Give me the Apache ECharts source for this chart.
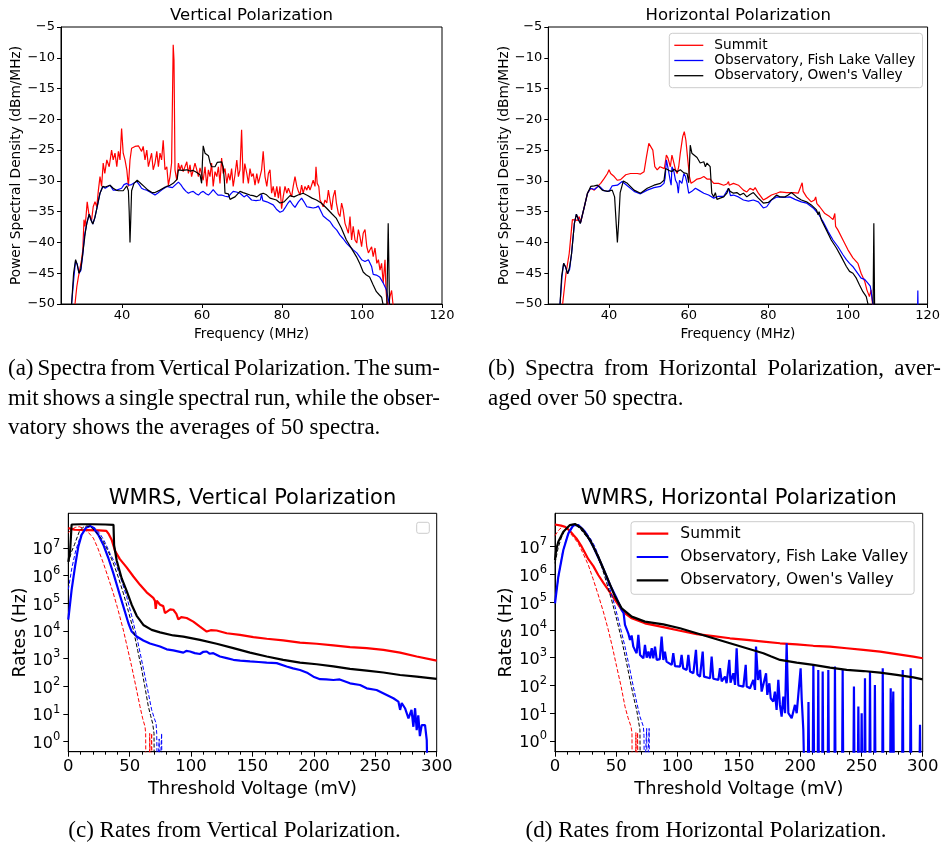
<!DOCTYPE html>
<html>
<head>
<meta charset="utf-8">
<script src="https://cdn.jsdelivr.net/npm/echarts@6/dist/echarts.min.js"></script>
<style>
  html, body { margin: 0; padding: 0; background: #fff; }
  #chart { position: absolute; left: 0; top: 0; width: 943px; height: 846px; }
  .cap { position: absolute; font-family: 'Liberation Serif', 'Times New Roman', serif; font-size: 23px; line-height: 29.5px; color: #000; }
  .cap div { white-space: nowrap; }
  .cap div.just { text-align: justify; text-align-last: justify; word-spacing: -2.5px; }
</style>
</head>
<body>
<div id="chart"></div>

<div class="cap" style="left:8px; top:353px; width:432px;">
  <div class="just">(a) Spectra from Vertical Polarization. The sum-</div>
  <div class="just">mit shows a single spectral run, while the obser-</div>
  <div>vatory shows the averages of 50 spectra.</div>
</div>
<div class="cap" style="left:488px; top:353px; width:453px;">
  <div class="just">(b) Spectra from Horizontal Polarization, aver-</div>
  <div>aged over 50 spectra.</div>
</div>
<div class="cap" style="left:0px; top:815px; width:469px; text-align:center;">
  <div>(c) Rates from Vertical Polarization.</div>
</div>
<div class="cap" style="left:469px; top:815px; width:474px; text-align:center;">
  <div>(d) Rates from Horizontal Polarization.</div>
</div>

<script>
// ---------- Spectra: [frequency MHz, PSD dBm/MHz] ----------
const specVSummit = [[28.25,-50],[28.7,-47.2],[29.1,-45.6],[29.5,-45.4],[29.9,-42.8],[30.2,-41.2],[30.5,-36.3],[30.75,-37.4],[31,-35.8],[31.3,-33.4],[31.7,-35.3],[32,-35.8],[32.4,-36.4],[32.8,-34.2],[33.25,-33.4],[33.7,-34.2],[34.1,-31.5],[34.5,-29.3],[34.9,-30.9],[35.3,-27.1],[35.7,-28.8],[36.2,-26.6],[36.8,-27.7],[37.4,-25],[37.8,-26.6],[38.25,-25.5],[38.7,-27.7],[39.1,-25.2],[39.5,-26.6],[39.9,-21.5],[40.3,-25.5],[40.75,-26.6],[41.2,-28.2],[41.6,-30.9],[42,-26.6],[42.4,-24.7],[43.25,-24.4],[44.1,-24.3],[44.9,-25.2],[45.3,-24.4],[45.75,-26.6],[46.2,-25],[46.6,-27.7],[47,-26.6],[47.4,-25.5],[47.8,-28.2],[48.25,-27.1],[48.7,-25.2],[49.1,-27.7],[49.5,-25.5],[49.9,-26.6],[50.3,-23.4],[50.75,-28.2],[51.2,-27.7],[51.6,-30.7],[52,-29.3],[52.4,-27.1],[52.8,-7.9],[53,-10.4],[53.25,-28.2],[53.7,-29.9],[54.1,-27.1],[54.5,-28.2],[54.9,-27.4],[55.3,-28.5],[56.2,-26.9],[56.6,-28.8],[57,-27.4],[57.4,-29.3],[58.25,-27.1],[58.7,-28.2],[59.1,-29.3],[59.5,-27.9],[60.3,-29.9],[60.75,-27.7],[61.2,-30.9],[61.6,-28.2],[62,-29.3],[62.4,-27.1],[62.8,-30.9],[63.25,-28.5],[63.7,-29.3],[64.1,-27.7],[64.5,-30.4],[64.9,-26.3],[65.3,-28.8],[65.75,-28],[66.2,-30.4],[66.6,-28.8],[67,-29.9],[67.4,-28],[67.8,-30.9],[68.25,-29],[68.7,-26.6],[69.1,-29.3],[69.5,-28.2],[69.9,-21.7],[70.3,-30.4],[70.7,-27.2],[71.2,-28.8],[71.6,-30.4],[72,-28],[72.4,-29.3],[72.8,-28.8],[73.25,-30.7],[73.7,-28.8],[74.1,-30.4],[74.5,-29.3],[74.9,-28.2],[75.3,-25.2],[75.75,-29.3],[76.2,-30.9],[76.6,-28.8],[77,-28.2],[77.4,-32],[77.8,-30.9],[78.25,-32.6],[78.7,-30.9],[79.1,-32.8],[79.5,-30.9],[79.9,-34.5],[80.3,-32.6],[80.75,-30.9],[81.2,-32],[81.6,-31.2],[82,-31.5],[82.4,-32.6],[82.8,-30.9],[83.25,-29.3],[83.7,-30.9],[84.1,-31.7],[84.5,-32.3],[84.9,-30.7],[85.3,-32],[85.75,-30.9],[86.2,-31.5],[86.6,-30.7],[87,-31.5],[87.4,-30.7],[87.8,-29.9],[88.25,-30.9],[88.5,-27.7],[88.8,-30.4],[89.2,-30.9],[89.5,-33.1],[89.9,-33.6],[90.3,-34.2],[90.75,-33.1],[91.2,-33.6],[91.6,-31.5],[92,-33.1],[92.4,-34.7],[92.8,-32.6],[93.25,-31.5],[93.6,-33.6],[94.1,-35.3],[94.5,-35.8],[94.9,-33.6],[95.3,-34.7],[95.75,-36.9],[96.2,-36.6],[96.6,-38.5],[97,-35.8],[97.4,-39.6],[97.8,-37.4],[98.25,-39.6],[98.7,-40.1],[99.1,-37.9],[99.5,-39.1],[99.9,-40.7],[100.3,-38.5],[100.75,-37.9],[101.2,-40.7],[101.6,-41.7],[102,-41.2],[102.4,-40.7],[102.8,-42.3],[103.25,-40.9],[103.7,-43.4],[104.1,-42.8],[104.5,-44.5],[104.9,-43.4],[105.3,-46.6],[105.75,-42.8],[106,-47.7],[106.2,-49.4],[106.6,-50.5],[107,-48.8],[107.4,-47.8],[107.7,-47.6],[107.9,-51]];

const specVFish = [[27.4,-50],[28.0,-45.5],[28.4,-43],[28.8,-43.5],[29.25,-45],[29.7,-44.6],[30.2,-42],[30.6,-39],[31.2,-36.9],[31.8,-35.4],[32.2,-36.2],[32.7,-37],[33.2,-36],[33.7,-34.5],[34.5,-32],[35.2,-30.9],[35.8,-31.2],[36.2,-31.2],[37,-30.7],[37.8,-31.5],[38.7,-31.5],[39.9,-31.2],[40.5,-30.6],[41.2,-30.4],[41.8,-30.7],[42.4,-30.6],[43.1,-30.3],[43.7,-30.1],[44.3,-30.6],[44.9,-31.2],[45.5,-31.4],[46.2,-31.5],[47.2,-31.9],[48.25,-32.3],[48.9,-32],[49.5,-31.7],[50.3,-31.3],[51.2,-30.9],[52,-31],[52.6,-31.1],[53.4,-30.6],[54.1,-30.2],[54.7,-30.6],[55.3,-31.2],[56,-31.7],[56.6,-32],[57.2,-31.8],[57.8,-31.7],[58.5,-32.1],[59.1,-32.3],[59.7,-31.9],[60.3,-31.7],[61,-32.1],[61.6,-32.3],[62.2,-31.9],[62.8,-31.4],[63.4,-31.9],[64,-32.3],[64.9,-32.3],[65.8,-32.5],[66.6,-32.6],[67.2,-32.1],[67.8,-31.7],[68.6,-31.8],[69.5,-32],[70.5,-32.6],[71.2,-32.3],[72.4,-33.1],[73.5,-33.2],[74.6,-33.1],[74.9,-32.2],[75.2,-33.2],[76.2,-33.4],[77.8,-33.9],[78.6,-34.6],[79.5,-35.1],[80.2,-34.9],[80.75,-34.4],[81.5,-33.6],[82,-33.2],[82.6,-33.8],[83.25,-34.3],[84.1,-33.4],[84.9,-32.8],[85.5,-33.4],[86.2,-34.2],[87,-34.3],[87.8,-34.4],[88.5,-34.3],[89.1,-34.1],[90.3,-35.7],[91.2,-36.2],[92,-36.6],[92.8,-37.4],[93.7,-38],[94.5,-38.8],[95.3,-39.4],[96.2,-40.2],[97,-40.7],[97.8,-41.2],[98.7,-41.7],[99.9,-42.8],[100.75,-43.1],[101.6,-42.8],[101.9,-42.9],[102.4,-43.9],[102.8,-45.2],[103.6,-45.3],[104.4,-45.6],[105.3,-46.6],[106.1,-47.7],[106.6,-49.3],[107,-50.5]];

const specVOwens = [[27.4,-50],[27.9,-45],[28.4,-42.8],[28.8,-43.6],[29.25,-45],[29.7,-44.3],[30.3,-41.2],[30.8,-38.5],[31.2,-36.9],[31.8,-35.4],[32.2,-36.3],[32.7,-37],[33.2,-36],[33.7,-34.5],[34.5,-32],[35.2,-30.9],[35.8,-31],[36.2,-31.2],[37,-30.7],[37.8,-31.2],[38.5,-31.5],[39.1,-31.6],[40.3,-31.6],[41.2,-30.8],[41.6,-31.6],[41.8,-35],[42,-40],[42.2,-36],[42.4,-31.6],[43,-30.4],[43.8,-29.9],[44.5,-30.3],[45.5,-30.9],[46.5,-31.5],[47.5,-31.9],[48.25,-31.9],[49.5,-31.5],[50.5,-31.1],[51.2,-30.9],[52,-30.7],[52.8,-30.4],[53.8,-29.7],[54.0,-29.6],[54.1,-28.2],[55,-28.3],[56.2,-28.2],[57,-28.4],[57.8,-28.3],[58.6,-28.6],[59.5,-29],[59.9,-30.4],[60.1,-27],[60.3,-24.3],[60.75,-25.5],[61.6,-25.9],[62,-27],[62.4,-27.7],[63.25,-27.7],[63.8,-27],[64.3,-26.7],[64.9,-26.9],[65.3,-27.7],[65.6,-30],[65.75,-32],[66.6,-32.1],[67,-33],[67.6,-32.8],[68.25,-32.6],[69.5,-31.7],[70.3,-31.9],[70.75,-32],[72,-32.3],[72.8,-32.4],[73.7,-32.6],[74.5,-32.2],[75.3,-32],[76,-32.2],[77,-32.8],[78.6,-33.1],[79.5,-33.6],[80.5,-33.4],[82,-32.4],[83,-32.6],[84,-32.3],[85.3,-32],[86.5,-32.4],[87.5,-32.8],[88.6,-33.1],[89.8,-33.6],[91.1,-34.4],[92.4,-35.3],[93.6,-36.1],[94.8,-37.6],[96.1,-39.6],[97.4,-41],[98.6,-42.3],[99.5,-43.5],[100.3,-44.8],[101.1,-45.3],[101.9,-45.6],[102.8,-46.9],[103.6,-48],[104.3,-48.5],[104.9,-48.9],[105.3,-50.2],[106.2,-51],[106.55,-36.9],[106.9,-51]];

const specHSummit = [[28.35,-50],[29.2,-45],[30,-41.8],[30.8,-36.3],[31.3,-36.2],[32.1,-36.4],[32.5,-35.8],[32.9,-36.7],[33.8,-34.2],[34.6,-32],[35.4,-31.2],[36.3,-31.5],[37.1,-30.9],[37.9,-30.4],[38.8,-29.6],[39.6,-28.8],[40,-28.2],[40.4,-28.8],[41.3,-29.3],[42.1,-29.9],[42.9,-29.8],[44.2,-29],[45.4,-28.8],[47.1,-28.8],[47.9,-28.9],[48.8,-28.5],[49.4,-26.1],[50,-23.9],[50.4,-23.8],[51,-25],[51.5,-27.7],[52.1,-28.2],[52.8,-27.7],[53.3,-27.6],[53.9,-28],[54.4,-25.8],[54.8,-26.3],[55.4,-27.7],[55.8,-25.8],[56.3,-27.1],[56.7,-28.2],[57.1,-28.8],[57.5,-27.7],[57.9,-25.5],[58.5,-22.8],[58.9,-22],[59.3,-23.4],[59.8,-26.7],[60.2,-29.3],[60.6,-30.4],[61.3,-30.1],[62.1,-29.7],[62.9,-29.6],[63.8,-29.3],[64.6,-29.7],[65.4,-29.7],[66.3,-30.4],[67.5,-30.4],[68.8,-30.7],[69.6,-30.5],[70,-30.1],[70.2,-30.7],[71.25,-30.4],[72.5,-30.7],[73.75,-31.5],[74.6,-31.8],[75.4,-31.2],[76.25,-31.5],[76.7,-31.1],[77.5,-32],[78.75,-33.1],[79.6,-32.8],[80.8,-32.3],[82.1,-32],[82.9,-31.8],[84.6,-31.9],[86.25,-31.9],[87.5,-32],[88.1,-31],[88.5,-30.3],[88.75,-31.7],[89.6,-32.6],[90.8,-33.4],[91.6,-33.1],[91.9,-32.6],[92.2,-33.7],[92.9,-34.2],[94.2,-35.3],[95.4,-35.8],[96.25,-36.3],[96.7,-35.3],[96.9,-37.4],[97.5,-38],[98.75,-39.6],[100,-41.2],[101.25,-42.5],[102.5,-43.4],[103.3,-45],[104.2,-46.3],[104.75,-47.7],[105.4,-48.8],[105.8,-47.7],[106.25,-50.5]];

const specHFish = [[27.7,-50],[28.2,-45.5],[28.6,-43.4],[29.1,-44],[29.6,-45.1],[30.1,-44.4],[30.6,-41.8],[31.3,-36.9],[31.8,-35.4],[32.3,-36.2],[32.8,-36.9],[33.8,-34.2],[34.6,-32],[35.4,-31.2],[36.3,-31.4],[37.5,-30.8],[38.7,-31.6],[40,-31.7],[40.8,-30.8],[42.1,-30.7],[43.3,-30.1],[44.6,-30.8],[46.3,-31.7],[47.9,-32.1],[49.6,-31.5],[51.3,-31.1],[52.9,-30.9],[53.8,-30.4],[54.1,-29.5],[54.4,-26.6],[54.9,-28.2],[55.4,-30.1],[55.6,-30.7],[55.8,-27.7],[56.3,-28.5],[56.7,-29.9],[57.1,-30.4],[57.4,-32],[57.7,-29.9],[58.3,-30.4],[58.8,-28.8],[59.2,-29.3],[59.6,-30.4],[60,-32],[60.8,-31.7],[61.7,-31.2],[62.5,-31.5],[63.8,-32],[65,-32.3],[66.3,-32.8],[67.5,-32.5],[68.8,-32.5],[70,-31.2],[70.5,-32.4],[71.25,-32.3],[72.5,-32.6],[73.75,-33.1],[75,-33.3],[76.25,-33.1],[77.5,-33.4],[78.75,-34.4],[79.6,-34.2],[80.8,-33.1],[82.1,-32.6],[83.8,-32.7],[85.4,-32.6],[86.7,-33],[88.3,-33.4],[89.6,-33.6],[91.25,-34.4],[92.5,-35.3],[93.75,-36.6],[95,-38.2],[96.25,-39.6],[97.5,-40.7],[98.75,-42],[99.6,-42.8],[100.4,-43.4],[101.2,-43.9],[102.1,-44.7],[103.3,-45.8],[104.2,-46],[105,-46.6],[105.6,-47.1],[106.1,-46.9],[106.4,-50.5],[117.4,-55],[117.55,-47.8],[117.7,-55]];

const specHOwens = [[27.7,-50],[28.1,-45.5],[28.6,-43.4],[29.1,-44],[29.6,-45.1],[30.1,-44],[30.6,-41.8],[31.3,-36.9],[31.8,-35.4],[32.3,-36.3],[32.8,-36.9],[33.8,-34.2],[34.6,-32],[35.4,-30.9],[36.3,-30.8],[37.1,-30.7],[38.3,-31.5],[39.6,-31.7],[40.8,-31.5],[41.4,-32.6],[41.8,-36.9],[42.1,-40],[42.4,-36.9],[42.8,-31.9],[43.6,-30],[44.6,-30.4],[46.3,-31.5],[47.9,-32],[49.6,-31.2],[51.3,-30.7],[52.9,-30.4],[53.8,-29.9],[54.2,-28],[55.1,-28.3],[55.8,-28.5],[56.3,-28.1],[57.1,-28.5],[57.9,-28.2],[58.8,-28.7],[59.6,-28.8],[60,-30.3],[60.4,-24.2],[60.8,-25.5],[61.3,-25.3],[62.1,-26.2],[62.9,-27.1],[63.8,-26.9],[64.2,-27.7],[64.6,-27.1],[65,-26.9],[65.4,-27.7],[65.8,-32],[66.3,-32.6],[66.7,-31.9],[67.1,-33],[67.9,-32.8],[68.8,-32.6],[69.6,-32],[70,-31.2],[70.4,-31.7],[71.25,-32],[72.1,-31.9],[72.9,-32.3],[73.75,-32],[74.6,-32.6],[75.4,-32.2],[76.25,-31.9],[77.5,-32.8],[78.75,-33.6],[80,-33.5],[81.25,-32.8],[82.1,-32.3],[82.9,-32.6],[84.2,-32.6],[85,-32.3],[85.8,-31.9],[87.1,-32.6],[88.3,-33.1],[89.6,-33.4],[90.8,-33.9],[92.1,-34.7],[92.5,-35.5],[92.75,-35],[93.3,-36.3],[94.6,-38],[95.8,-39.6],[97.1,-40.9],[98.3,-42.3],[99.6,-43.9],[100.4,-44.7],[101.25,-45],[102.1,-45.8],[102.9,-46.9],[103.75,-48],[104.6,-48.8],[105.2,-50.5],[106.3,-51],[106.5,-36.9],[106.7,-51]];

// ---------- Trigger rates: [threshold mV, log10(rate / Hz)] ----------
const rateVSummit = [[0,7.72],[1,7.68],[5,7.66],[15,7.65],[25,7.64],[31,7.62],[33,7.5],[35.3,7.3],[38,6.9],[42,6.6],[47.5,6.3],[53,5.97],[58.4,5.67],[63.8,5.4],[69.2,5.2],[70.5,5.1],[71.2,4.8],[72,5.1],[74.7,4.95],[77.3,4.9],[78.7,4.65],[80,4.72],[83,4.78],[85.5,4.77],[88,4.62],[89.6,4.42],[92,4.5],[96.4,4.47],[101.8,4.34],[107.2,4.16],[112.7,3.98],[116,4.03],[120.8,4.02],[129,3.92],[139.8,3.86],[150.7,3.78],[161.6,3.72],[175,3.66],[188.7,3.58],[202.3,3.54],[215.9,3.48],[229.4,3.42],[243,3.38],[256.6,3.32],[270.2,3.22],[283.7,3.08],[300,2.93]];
const rateVSummitFit = [[0,7.55],[3,7.68],[6,7.75],[9,7.77],[12,7.72],[16,7.58],[20.4,7.36],[24,7.0],[28.5,6.46],[32,6.0],[36.6,5.37],[40,4.85],[44.8,4.04],[48,3.42],[51.6,2.72],[55,2.0],[58.4,1.27],[60.5,0.85],[62.5,0.54],[63,0.3],[63.2,-1.5],[66,-1.5],[66.3,0.3],[66.6,-1.5],[67.6,-1.5],[67.9,0.3],[68.2,-1.5]];
const rateVFish = [[0,4.41],[2.7,5.49],[5.5,6.34],[8.2,7.06],[10.9,7.48],[14.4,7.73],[17.7,7.8],[20.4,7.73],[24.4,7.48],[28.5,7.12],[32.6,6.64],[36.6,6.1],[40.7,5.49],[44.8,4.89],[48.9,4.29],[51.6,3.98],[55.7,3.8],[61.1,3.66],[66.5,3.55],[74.7,3.44],[80.1,3.34],[85.5,3.3],[93.7,3.22],[96,3.28],[99.1,3.26],[103,3.2],[107.2,3.17],[110,3.25],[112.7,3.26],[115,3.18],[118.1,3.2],[123.5,3.08],[129,3.02],[134.4,2.96],[140,2.93],[148,2.9],[155,2.88],[161.6,2.86],[169.7,2.84],[177.8,2.72],[183,2.65],[188.7,2.59],[195,2.48],[199.6,2.35],[205,2.26],[210,2.25],[215.9,2.23],[221,2.25],[229.4,2.11],[237.6,2.05],[243,1.93],[251,1.87],[259.3,1.69],[264.7,1.57],[268.8,1.45],[270.2,1.15],[271.5,1.4],[274.2,1.21],[277,0.84],[279.5,1.15],[281,0.54],[282.4,1.21],[283.7,0.42],[285,0.95],[286.3,0.2],[287.8,0.6],[290.5,0.6],[291.9,0.06],[292.5,-1.5]];
const rateVFishFit = [[0,5.5],[3,6.3],[6,6.9],[10,7.45],[14,7.72],[18,7.8],[22,7.72],[26,7.5],[30,7.2],[34,6.8],[39.4,6.34],[43.5,5.8],[47.5,5.25],[51.6,4.55],[55.7,3.8],[59,3.1],[62.5,2.35],[65.2,1.75],[67.9,1.15],[70,0.85],[71.5,0.66],[72,0.3],[72.5,-1.5],[73.8,-1.5],[74,0.1],[74.3,-1.5],[75.8,-1.5],[76,0.3],[76.3,-1.5]];
const rateVOwens = [[0,6.5],[1.5,6.9],[2.7,7.85],[10,7.86],[20,7.86],[30,7.85],[36.8,7.84],[37.3,7.1],[39.4,6.55],[43.5,5.9],[47.5,5.45],[51.6,4.95],[55.7,4.55],[61.1,4.22],[67.9,4.04],[74.7,3.95],[85.5,3.84],[93.7,3.8],[107.2,3.68],[120.8,3.54],[134.4,3.38],[148,3.22],[161.6,3.08],[175,2.96],[188.7,2.86],[202.3,2.8],[215.9,2.72],[229.4,2.63],[243,2.57],[256.6,2.5],[270.2,2.41],[283.7,2.35],[300,2.27]];
const rateVOwensFit = [[0,6.45],[2.5,6.85],[5,7.12],[9,7.6],[12,7.75],[15,7.8],[18,7.77],[22,7.6],[25,7.45],[28.5,7.24],[32.5,6.88],[36.6,6.46],[40.7,5.95],[44.8,5.37],[49,4.7],[53,4.04],[56.5,3.3],[59.8,2.6],[62.5,1.95],[65.2,1.27],[67,0.95],[68.7,0.66],[69.8,0.3],[70.1,-1.5]];

const rateHSummit = [[0,7.8],[5,7.76],[8.2,7.72],[12,7.58],[15,7.42],[17.5,7.3],[18.5,7.26],[21.8,7.0],[27.2,6.55],[31.3,6.3],[35.3,5.98],[39.5,5.7],[43.5,5.44],[49,5.08],[54.4,4.72],[58.5,4.55],[62.6,4.42],[73.4,4.24],[88.4,4.1],[102,3.97],[115.6,3.85],[129.2,3.78],[142.8,3.7],[156.4,3.64],[170,3.58],[183.6,3.52],[197.2,3.48],[210.8,3.43],[224.4,3.4],[238,3.34],[251.6,3.28],[265.2,3.22],[278.8,3.13],[292.4,3.04],[300,2.98]];
const rateHSummitFit = [[0,7.4],[3,7.6],[6,7.72],[9,7.72],[12.2,7.5],[15,7.35],[19,7.12],[23,6.75],[27.2,6.34],[31,5.85],[35.3,5.26],[39.5,4.65],[43.5,4.0],[47,3.35],[50.3,2.68],[54,1.95],[57.1,1.24],[59.5,0.85],[62,0.52],[62.8,0.3],[63,-1.5],[65.8,-1.5],[66,0.3],[66.3,-1.5],[67.2,-1.5],[67.4,0.3],[67.7,-1.5]];
const rateHFish = [[0,4.96],[2.7,5.92],[6.8,6.88],[10.9,7.48],[15,7.78],[19,7.78],[24.5,7.54],[31.3,7.0],[38.1,6.34],[44.9,5.62],[50.3,5.14],[54.4,4.72],[56,4.6],[57.1,4.18],[59.8,3.88],[61.2,3.64],[62.5,3.8],[63.9,3.4],[65,3.3],[66.6,3.16],[68,3.82],[69.4,3.1],[72.1,2.98],[73.4,3.46],[74.8,3.0],[76.2,3.22],[77.5,2.98],[78.9,3.34],[80.2,2.98],[81.6,3.4],[83,2.92],[85.5,2.95],[87,3.76],[88.4,2.92],[89.7,3.22],[91,2.86],[95.2,2.74],[96.5,3.16],[97.9,2.7],[102,2.68],[103.3,3.1],[104.6,2.62],[107.4,2.56],[108.8,3.1],[110.2,2.5],[112.9,2.44],[115,3.28],[116.2,2.4],[118.3,2.32],[120.5,3.22],[121.6,2.32],[126.5,2.26],[127.8,3.04],[129.2,2.24],[133.3,2.2],[134.6,2.62],[136,2.15],[138.7,2.32],[140,2.08],[142.2,2.92],[143.2,2.1],[145.5,2.44],[146.9,2.02],[148.2,3.34],[149.6,2.0],[153.7,1.96],[155.6,2.74],[156.4,1.96],[159.1,1.9],[161.8,2.2],[163.2,1.84],[164,3.4],[165.6,2.2],[167.3,2.56],[168.6,1.78],[170,1.72],[172.2,2.44],[173.2,1.66],[174.9,2.08],[176,1.54],[178.1,1.42],[179.4,1.78],[180.8,1.12],[182.2,2.2],[183.5,1.3],[184.9,0.88],[186.3,1.6],[187.7,1.0],[189,3.52],[190.4,1.0],[193.1,0.82],[195.8,1.3],[197.2,1.0],[200.4,2.62],[201.3,1.5],[202.6,0.4],[203.5,-1.5],[206.2,-1.5],[206.8,1.4],[207.5,-1.5],[210.2,-1.5],[210.8,2.74],[211.5,-1.5],[214.3,-1.5],[214.8,2.56],[215.3,-1.5],[218,-1.5],[218.4,2.5],[218.9,-1.5],[222.5,-1.5],[223,2.56],[223.5,-1.5],[228,-1.5],[228.4,2.68],[228.9,-1.5],[234.2,-1.5],[234.7,2.56],[235.2,-1.5],[243.4,-1.5],[243.9,1.96],[244.4,-1.5],[247,-1.5],[247.5,1.24],[248,-1.5],[249.7,-1.5],[250.2,1.0],[250.7,-1.5],[252.4,-1.5],[252.9,2.26],[253.4,-1.5],[256.5,-1.5],[257,2.5],[257.5,-1.5],[260.5,-1.5],[261,2.02],[261.5,-1.5],[267,-1.5],[267.4,2.62],[267.9,-1.5],[273.4,-1.5],[273.9,1.9],[274.4,-1.5],[275.5,-1.5],[276,1.78],[276.5,-1.5],[283.2,-1.5],[283.7,2.56],[284.2,-1.5],[289.7,-1.5],[290.2,2.62],[290.7,-1.5],[297.3,-1.5],[297.8,0.58],[298.3,-1.5]];
const rateHFishFit = [[0,5.0],[3,5.95],[6,6.75],[9,7.25],[12,7.58],[15,7.74],[18,7.8],[22,7.7],[26,7.48],[29.5,7.25],[32.6,7.0],[36.5,6.55],[40.8,6.04],[45,5.45],[49,4.84],[53,4.15],[57.1,3.4],[60.5,2.7],[63.9,1.96],[66.6,1.4],[69.3,0.88],[72.1,0.52],[72.6,0.2],[72.9,-1.5],[74.5,-1.5],[74.8,0.45],[75.1,-1.5],[76.5,-1.5],[76.8,0.45],[77.1,-1.5]];
const rateHOwens = [[0,6.52],[1,6.9],[2.7,7.18],[6.8,7.54],[12.2,7.78],[16.3,7.82],[21.8,7.66],[28.6,7.24],[35.3,6.64],[42.2,5.92],[49,5.2],[54.4,4.78],[62.6,4.48],[73.4,4.3],[88.4,4.2],[102,4.06],[115.6,3.88],[129.2,3.7],[142.8,3.52],[156.4,3.34],[170,3.16],[176,3.05],[183.6,2.92],[197.2,2.82],[210.8,2.74],[224.4,2.64],[238,2.56],[251.6,2.52],[265.2,2.46],[278.8,2.38],[292.4,2.29],[300,2.22]];
const rateHOwensFit = [[0,6.4],[2.5,6.95],[5,7.3],[8,7.6],[11,7.74],[14,7.8],[17,7.78],[21,7.62],[25,7.4],[29.9,7.12],[34,6.72],[38.1,6.28],[42,5.72],[46.2,5.08],[50.5,4.35],[54.4,3.64],[58,2.9],[61.2,2.2],[64,1.6],[66.6,1.12],[68,0.75],[69.3,0.4],[69.6,-1.5]];

// ---------- Axis ticks and labels ----------
const freqTicks = [40, 60, 80, 100, 120];
const rateTicks = [1, 10, 100, 1e3, 1e4, 1e5, 1e6, 1e7];
const siteLabels = ['Summit', 'Observatory, Fish Lake Valley', "Observatory, Owen's Valley"];
const panelTitles = ['Vertical Polarization', 'Horizontal Polarization', 'WMRS, Vertical Polarization', 'WMRS, Horizontal Polarization'];

const RED = '#ff0000', BLUE = '#0000ff', BLACK = '#000000';
const FONT = 'DejaVu Sans';

// panel rectangles
const grids = [
  { left: 61, top: 27, width: 381, height: 277 },
  { left: 548.3, top: 27, width: 380, height: 277 },
  { left: 68.3, top: 513.3, width: 368.4, height: 238.4 },
  { left: 555, top: 513.3, width: 367.7, height: 238.4 }
].map(g => Object.assign({ show: true, borderColor: '#000', borderWidth: 1, backgroundColor: 'transparent' }, g));

const minusFmt = v => (v < 0 ? '\u2212' + Math.abs(v) : String(v));
const axisLineStyle = { show: true, onZero: false, lineStyle: { color: '#000', width: 1 } };

function freqAxis(i) {
  return {
    type: 'value', gridIndex: i, min: 24.75, max: 120,
    axisLine: axisLineStyle,
    axisTick: { show: true, inside: false, length: 4, customValues: freqTicks, lineStyle: { color: '#000' } },
    axisLabel: { customValues: freqTicks, fontSize: 13, color: '#000', fontFamily: FONT, margin: 5 },
    splitLine: { show: false },
    name: 'Frequency (MHz)', nameLocation: 'middle', nameGap: 23,
    nameTextStyle: { fontSize: 13.7, color: '#000', fontFamily: FONT }
  };
}
function psdAxis(i) {
  return {
    type: 'value', gridIndex: i, min: -50, max: -5, interval: 5,
    axisLine: axisLineStyle,
    axisTick: { show: true, length: 4, lineStyle: { color: '#000' } },
    axisLabel: { formatter: minusFmt, fontSize: 13, color: '#000', fontFamily: FONT, margin: 6 },
    splitLine: { show: false },
    name: 'Power Spectral Density (dBm/MHz)', nameLocation: 'middle', nameGap: 36.5, nameRotate: 90,
    nameTextStyle: { fontSize: 13.7, color: '#000', fontFamily: FONT }
  };
}
function voltAxis(i) {
  return {
    type: 'value', gridIndex: i, min: 0, max: 300, interval: 50,
    axisLine: axisLineStyle,
    axisTick: { show: true, length: 5, lineStyle: { color: '#000' } },
    minorTick: { show: true, splitNumber: 5, length: 3, lineStyle: { color: '#000' } },
    axisLabel: { fontSize: 16.5, color: '#000', fontFamily: FONT, margin: 7 },
    splitLine: { show: false },
    name: 'Threshold Voltage (mV)', nameLocation: 'middle', nameGap: 29,
    nameTextStyle: { fontSize: 17.8, color: '#000', fontFamily: FONT }
  };
}
function rateAxis(i, lo, hi) {
  return {
    type: 'log', logBase: 10, gridIndex: i, min: lo, max: hi,
    axisLine: axisLineStyle,
    axisTick: { show: true, length: 5, customValues: rateTicks, lineStyle: { color: '#000' } },
    axisLabel: {
      customValues: rateTicks, margin: 8, color: '#000', fontFamily: FONT,
      formatter: v => '{b|10}{s|' + Math.round(Math.log10(v)) + '}',
      rich: {
        b: { fontSize: 16, lineHeight: 16, padding: [4.5, 0, 0, 0], color: '#000', fontFamily: FONT },
        s: { fontSize: 11.5, lineHeight: 11.5, padding: [0, 0, 9, 0], color: '#000', fontFamily: FONT }
      }
    },
    splitLine: { show: false },
    name: 'Rates (Hz)', nameLocation: 'middle', nameGap: 39, nameRotate: 90,
    nameTextStyle: { fontSize: 17.4, color: '#000', fontFamily: FONT }
  };
}

function line(id, data, axis, color, width, dashed, isLog) {
  return {
    type: 'line', name: id, xAxisIndex: axis, yAxisIndex: axis,
    data: isLog ? data.map(p => [p[0], Math.pow(10, p[1])]) : data,
    symbol: 'none', showSymbol: false, clip: true, silent: true,
    lineStyle: { color: color, width: width, type: dashed ? [4, 2] : 'solid' },
    itemStyle: { color: color },
    emphasis: { disabled: true }
  };
}

const series = [
  line('vS', specVSummit, 0, RED, 1.2),
  line('vF', specVFish, 0, BLUE, 1.2),
  line('vO', specVOwens, 0, BLACK, 1.2),
  line('hS', specHSummit, 1, RED, 1.2),
  line('hF', specHFish, 1, BLUE, 1.2),
  line('hO', specHOwens, 1, BLACK, 1.2),
  line('rvS', rateVSummit, 2, RED, 2.2, false, true),
  line('rvSf', rateVSummitFit, 2, RED, 1, true, true),
  line('rvF', rateVFish, 2, BLUE, 2.2, false, true),
  line('rvFf', rateVFishFit, 2, BLUE, 1, true, true),
  line('rvO', rateVOwens, 2, BLACK, 2.2, false, true),
  line('rvOf', rateVOwensFit, 2, BLACK, 1, true, true),
  line('rhS', rateHSummit, 3, RED, 2.2, false, true),
  line('rhSf', rateHSummitFit, 3, RED, 1, true, true),
  line('rhF', rateHFish, 3, BLUE, 2.2, false, true),
  line('rhFf', rateHFishFit, 3, BLUE, 1, true, true),
  line('rhO', rateHOwens, 3, BLACK, 2.2, false, true),
  line('rhOf', rateHOwensFit, 3, BLACK, 1, true, true)
];

const legendText = { hS: siteLabels[0], hF: siteLabels[1], hO: siteLabels[2], rhS: siteLabels[0], rhF: siteLabels[1], rhO: siteLabels[2] };
const legendBase = {
  orient: 'vertical', selectedMode: false, backgroundColor: 'rgba(255,255,255,0.8)',
  borderColor: '#cccccc', borderWidth: 1, borderRadius: 3, icon: 'rect',
  formatter: n => legendText[n]
};

const titlePos = [[251.5, 16, 16.5], [738.3, 16, 16.5], [252.5, 499, 21], [738.8, 499, 21]];

const option = {
  animation: false,
  backgroundColor: '#fff',
  textStyle: { fontFamily: FONT },
  grid: grids,
  xAxis: [freqAxis(0), freqAxis(1), voltAxis(2), voltAxis(3)],
  yAxis: [psdAxis(0), psdAxis(1), rateAxis(2, 0.435, 1.8e8), rateAxis(3, 0.41, 1.6e8)],
  legend: [
    Object.assign({}, legendBase, {
      data: ['hS', 'hF', 'hO'], left: 669.3, top: 33.3, padding: [5, 7, 5, 5],
      itemWidth: 29, itemHeight: 1.3, itemGap: 1.2,
      textStyle: { fontSize: 13.7, color: '#000', fontFamily: FONT, padding: [0, 0, 0, 6] }
    }),
    Object.assign({}, legendBase, {
      data: ['rhS', 'rhF', 'rhO'], left: 631, top: 521.7, padding: [4, 6, 6, 5.7],
      itemWidth: 31.6, itemHeight: 2.2, itemGap: 7.3,
      textStyle: { fontSize: 15.5, color: '#000', fontFamily: FONT, padding: [0, 0, 0, 7] }
    })
  ],
  graphic: titlePos.map((p, i) => ({
    type: 'text', x: p[0], y: p[1], silent: true,
    style: { text: panelTitles[i], fontSize: p[2], fontFamily: FONT, fill: '#000',
      align: 'center', verticalAlign: 'middle', textAlign: 'center', textVerticalAlign: 'middle' }
  })).concat([{
    // empty legend frame in the vertical-rate panel
    type: 'rect', silent: true,
    shape: { x: 416.7, y: 522.3, width: 12.6, height: 11, r: 2 },
    style: { fill: '#fff', stroke: '#cccccc', lineWidth: 1 }
  }]),
  series: series
};

const chart = echarts.init(document.getElementById('chart'), null, { renderer: 'canvas' });
chart.setOption(option);
</script>
</body>
</html>
